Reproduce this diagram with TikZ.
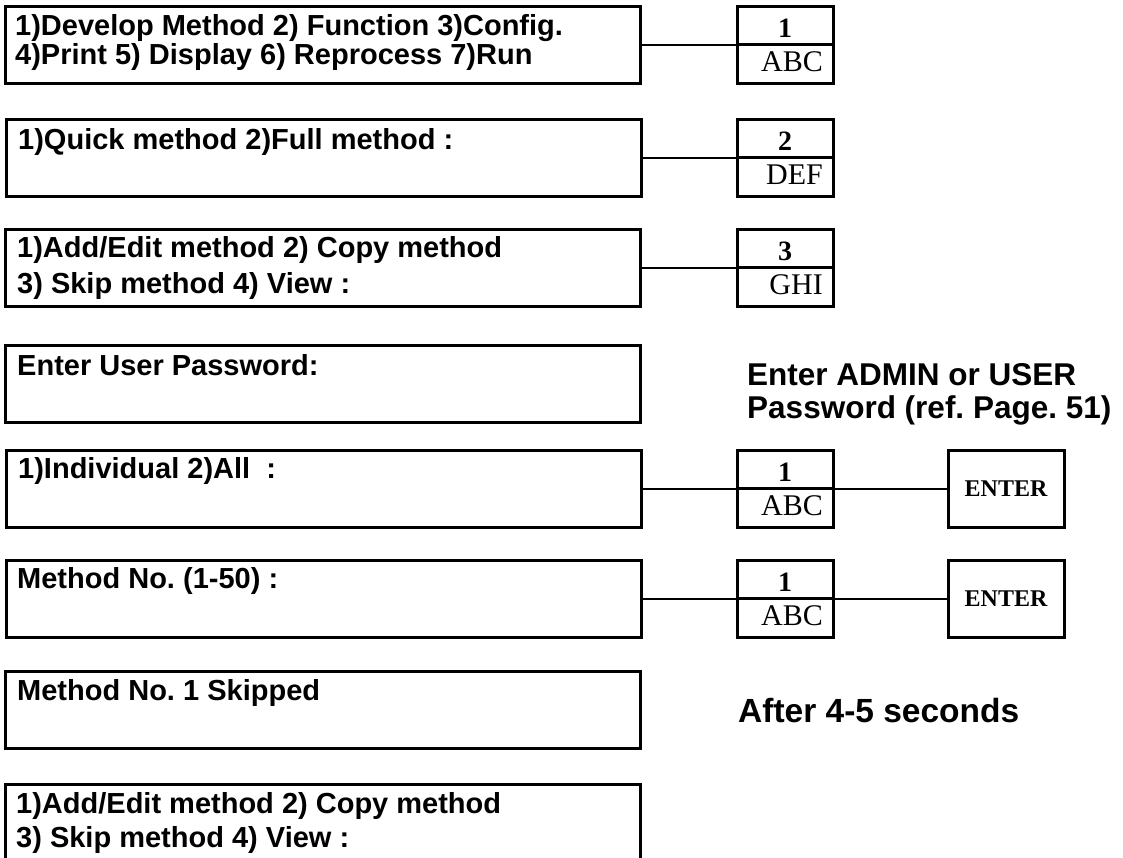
\documentclass[tikz,border=0pt]{standalone}
\usepackage{fontspec}
\setmainfont{Liberation Serif}
\setsansfont{Liberation Sans}
\frenchspacing
\tikzset{
  big/.style={draw, line width=3pt, minimum width=635pt, minimum height=77pt, inner sep=0pt, outer sep=0pt, anchor=north west},
  keybox/.style={draw, line width=3pt, minimum width=96pt, minimum height=77pt, inner sep=0pt, outer sep=0pt, anchor=west},
  enterbox/.style={draw, line width=3pt, minimum width=116pt, minimum height=77pt, inner sep=0pt, outer sep=0pt, anchor=west, font=\fontsize{24}{26}\rmfamily\bfseries\selectfont},
  lbl/.style={anchor=base west, inner sep=0pt, font=\fontsize{29}{31}\sffamily\bfseries\selectfont},
  note/.style={anchor=base west, inner sep=0pt, font=\fontsize{31.5}{33}\sffamily\bfseries\selectfont},
  digit/.style={anchor=base, inner sep=0pt, font=\fontsize{28}{30}\rmfamily\bfseries\selectfont},
  letters/.style={anchor=base east, inner sep=0pt, font=\fontsize{30}{32}\rmfamily\selectfont},
  conn/.style={line width=2pt},
  divider/.style={line width=2.5pt}
}
\begin{document}
\begin{tikzpicture}[x=1pt, y=-1pt]
\clip (0,0) rectangle (1123,857);
\fill[white] (0,0) rectangle (1123,857);

% screen boxes
\node[big] (b1) at (5,6) {};
\node[big] (b2) at (6,119) {};
\node[big] (b3) at (5,229) {};
\node[big] (b4) at (5,345) {};
\node[big] (b5) at (6,450) {};
\node[big] (b6) at (6,560) {};
\node[big] (b7) at (5,671) {};
\node[big] (b8) at (5,784) {};

% screen texts
\node[lbl] (t1a) at (15,35) {1)Develop Method 2) Function 3)Config.};
\node[lbl] (t1b) at (15,64) {4)Print 5) Display 6) Reprocess 7)Run};
\node[lbl] (t2) at (18,149) {1)Quick method 2)Full method :};
\node[lbl] (t3a) at (17,257) {1)Add/Edit method 2) Copy method};
\node[lbl] (t3b) at (17,293) {3) Skip method 4) View :};
\node[lbl] (t4) at (17,375) {Enter User Password:};
\node[lbl] (t5) at (18,478) {1)Individual 2)All\ \ :};
\node[lbl] (t6) at (17,588) {Method No. (1-50) :};
\node[lbl] (t7) at (17,700) {Method No. 1 Skipped};
\node[lbl] (t8a) at (16,813) {1)Add/Edit method 2) Copy method};
\node[lbl] (t8b) at (16,847) {3) Skip method 4) View :};

% key boxes
\node[keybox] (k1) at ([xshift=97pt]b1.east) {};
\node[keybox] (k2) at ([xshift=96pt]b2.east) {};
\node[keybox] (k3) at ([xshift=97pt]b3.east) {};
\node[keybox] (k5) at ([xshift=96pt]b5.east) {};
\node[keybox] (k6) at ([xshift=96pt]b6.east) {};

\foreach \k/\d/\l in {k1/1/ABC, k2/2/DEF, k3/3/GHI, k5/1/ABC, k6/1/ABC}{
  \draw[divider] (\k.west) -- (\k.east);
  \node[digit] at ([yshift=7pt]\k.center) {\d};
  \node[letters] at ([xshift=-10pt,yshift=12pt]\k.south east) {\l};
}

% enter boxes
\node[enterbox] (e5) at ([xshift=115pt]k5.east) {ENTER};
\node[enterbox] (e6) at ([xshift=115pt]k6.east) {ENTER};

% connectors
\draw[conn] (b1.east) -- (k1.west);
\draw[conn] (b2.east) -- (k2.west);
\draw[conn] (b3.east) -- (k3.west);
\draw[conn] (b5.east) -- (k5.west);
\draw[conn] (b6.east) -- (k6.west);
\draw[conn] (k5.east) -- (e5.west);
\draw[conn] (k6.east) -- (e6.west);

% notes
\node[note] (n1) at (747,385) {Enter ADMIN or USER};
\node[note] (n2) at (747,418) {Password (ref. Page. 51)};
\node[note, font=\fontsize{33.5}{35}\sffamily\bfseries\selectfont] (n3) at (738,722) {After 4-5 seconds};
\end{tikzpicture}
\end{document}
